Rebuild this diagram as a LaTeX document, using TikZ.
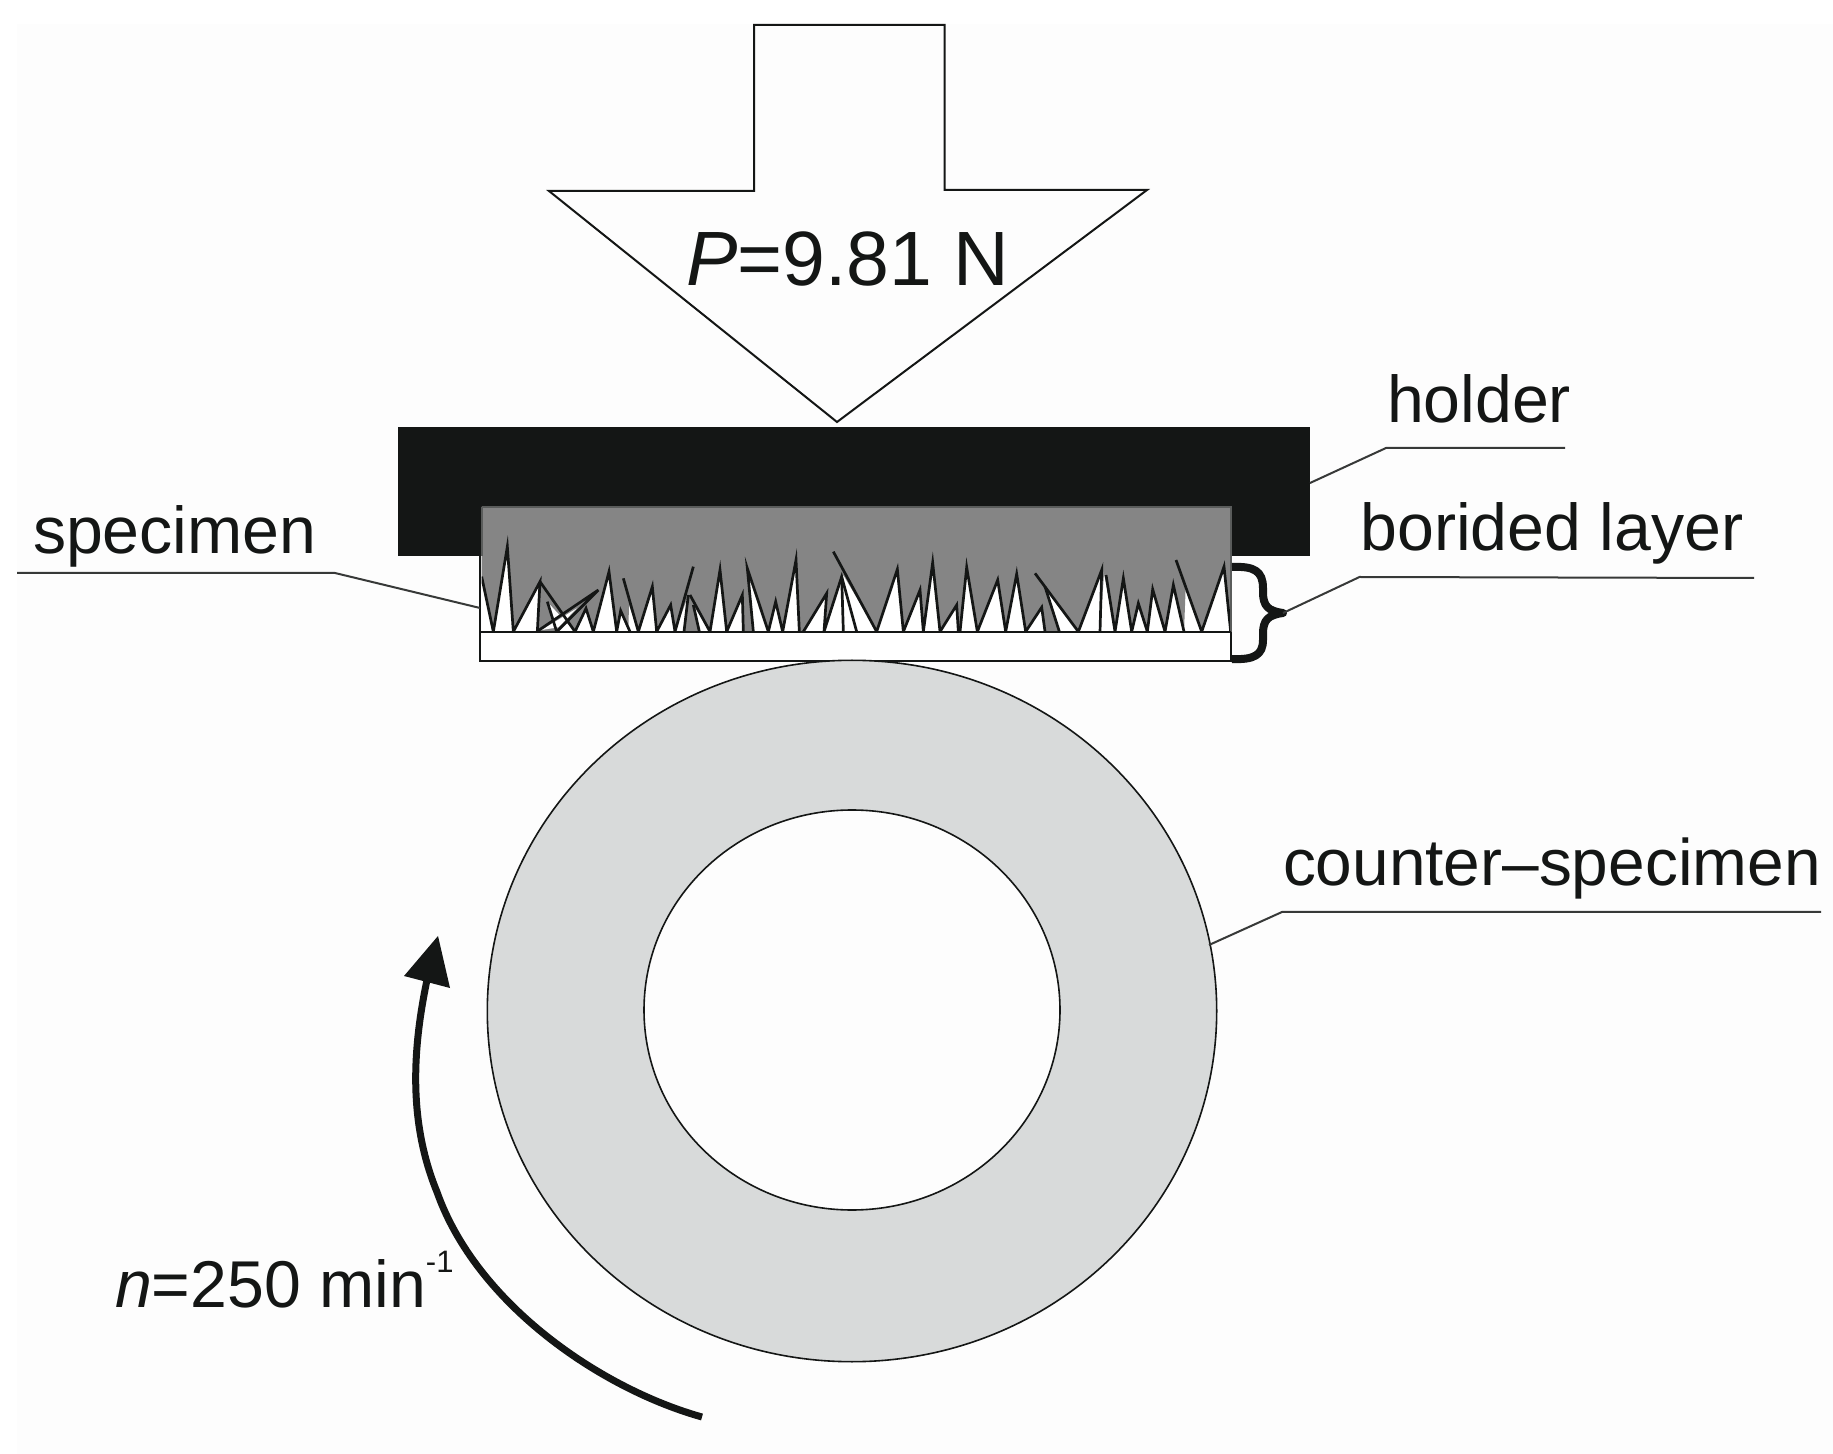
\documentclass[tikz,border=0pt]{standalone}
\usepackage{fontspec}
\setmainfont{Liberation Sans}
\definecolor{ink}{HTML}{141615}
\definecolor{paper}{HTML}{FDFDFD}
\definecolor{layergray}{HTML}{858585}
\definecolor{ringgray}{HTML}{D8DADA}
\tikzset{
  lab/.style={anchor=base west,inner sep=0pt,outer sep=0pt,text=ink,font=\fontsize{33.1pt}{36pt}\selectfont},
  biglab/.style={lab,font=\fontsize{38.5pt}{44pt}\selectfont},
  outline/.style={draw=ink,line width=1pt,line join=miter},
  thinline/.style={draw=ink,line width=.8pt},
  leader/.style={draw=ink!85,line width=1pt},
  spike/.style={draw=ink,line width=1.35pt,line join=miter}
}
\begin{document}
\begin{tikzpicture}[x=.5pt,y=-.5pt]
\useasboundingbox (0,0) rectangle (1833,1454);
\fill[white] (0,0) rectangle (1833,1454);
\fill[paper] (17,24) rectangle (1833,1454);

% load arrow
\draw[outline,fill=paper] (754,25) -- (944.5,25) -- (944.5,190) -- (1147,190) -- (837,422) -- (549,191) -- (754,191) -- cycle;
\node[biglab] (load) at (686,286) {\textit{P}=9.81 N};

% holder
\fill[ink] (398,427) rectangle (1310,556);

% specimen base
\draw[outline,fill=white] (480,556) -- (480,661) -- (1231,661) -- (1231,556);
\fill[white] (480,556) rectangle (1231,632);
\draw[outline] (480,556) -- (480,661);
\draw[outline] (1231,556) -- (1231,661);

% boride layer, drawn in the units of a 3x crop
\begin{scope}[shift={(460,490)},x=.16667pt,y=-.16667pt]
\clip (65,50) rectangle (2312,425);
\fill[layergray] (65,50) -- (65,260) -- (100,425) -- (142,170) -- (160,425) -- (240,275) -- (232,425)
  -- (290,425) -- (262,335) -- (345,425) -- (378,355) -- (400,425) -- (447,245) -- (470,425) -- (482,362) -- (505,420) -- (507,345)
  -- (535,425) -- (577,290) -- (590,425) -- (632,345) -- (645,425) -- (685,315) -- (672,425) -- (715,425) -- (700,345)
  -- (750,425) -- (780,240) -- (800,425) -- (847,315) -- (850,425) -- (880,425) -- (862,235) -- (925,425) -- (947,335)
  -- (968,425) -- (1008,210) -- (1018,425) -- (1030,425) -- (1100,310) -- (1092,425) -- (1150,255) -- (1250,425)
  -- (1312,238) -- (1330,425) -- (1380,300) -- (1390,425) -- (1418,218) -- (1440,425) -- (1490,345) -- (1495,425)
  -- (1500,425) -- (1520,232) -- (1552,425) -- (1613,270) -- (1637,425) -- (1670,252) -- (1697,425) -- (1745,352)
  -- (1755,425) -- (1798,425) -- (1755,290) -- (1855,425) -- (1925,240) -- (1920,425) -- (1932,250) -- (1965,425)
  -- (1990,265) -- (2015,425) -- (2035,340) -- (2062,425) -- (2078,298) -- (2115,425) -- (2140,285) -- (2172,425)
  -- (2177,290) -- (2225,425) -- (2292,230) -- (2312,425) -- (2312,50) -- cycle;
% the stray shard
\fill[layergray] (230,425) -- (415,300) -- (290,425) -- cycle;
\fill[white] (245,420) -- (350,355) -- (295,412) -- cycle;
\draw[spike] (65,260) -- (100,425) -- (142,170) -- (160,425) -- (240,275) -- (232,425);
\draw[spike] (240,275) -- (345,425) -- (378,355) -- (400,425) -- (447,245) -- (470,425) -- (482,362) -- (510,425);
\draw[spike] (262,335) -- (290,425);
\draw[spike] (230,425) -- (415,300) -- (290,425);
\draw[spike] (490,265) -- (535,425) -- (577,290) -- (590,425) -- (632,345) -- (645,425) -- (700,230);
\draw[spike] (685,315) -- (672,425);
\draw[spike] (690,315) -- (750,425) -- (780,240) -- (800,425) -- (847,315) -- (850,425);
\draw[spike] (700,345) -- (718,425);
\draw[spike] (880,425) -- (862,235) -- (925,425) -- (947,335) -- (968,425) -- (1008,210) -- (1018,425);
\draw[spike] (1030,425) -- (1100,310) -- (1092,425) -- (1145,260) -- (1190,425);
\draw[spike] (1145,260) -- (1150,425);
\draw[spike] (1120,185) -- (1250,425) -- (1312,238) -- (1330,425) -- (1380,300) -- (1390,425) -- (1418,218) -- (1440,425) -- (1490,345) -- (1495,425);
\draw[spike] (1500,425) -- (1520,232) -- (1552,425) -- (1613,270) -- (1637,425) -- (1670,252) -- (1697,425) -- (1745,352) -- (1755,425);
\draw[spike] (1725,250) -- (1855,425) -- (1925,240) -- (1920,425);
\draw[spike] (1755,290) -- (1798,425);
\draw[spike] (1938,255) -- (1965,425) -- (1990,265) -- (2015,425) -- (2035,340) -- (2062,425) -- (2078,298) -- (2115,425) -- (2140,285) -- (2172,425);
\draw[spike] (2148,210) -- (2225,425) -- (2292,230) -- (2312,425);
\end{scope}
\draw[draw=ink!70,line width=.8pt] (482,507) -- (1231,507) -- (1231,632);
\draw[draw=ink!70,line width=.8pt] (482,507) -- (482,556);
\draw[outline] (480,632) -- (1231,632);

% brace
\coordinate (bracetip) at (1283,613);
\draw[draw=ink,line width=4pt,line join=round] (1232,567) .. controls (1254,566) and (1263,571) .. (1263,588)
  -- (1263,592) .. controls (1263,606) and (1268,611) .. (bracetip)
  .. controls (1268,615) and (1263,620) .. (1263,634)
  -- (1263,640) .. controls (1263,655) and (1254,660) .. (1232,659);

% wheel
\draw[thinline,fill=ringgray] (852,1011) ellipse [x radius=182.35pt,y radius=175.35pt];
\draw[thinline,fill=paper] (852,1010) ellipse [x radius=104pt,y radius=100pt];

% rotation arrow
\draw[draw=ink,line width=3.5pt] (702,1417) .. controls (602,1389) and (477,1305) .. (437,1192)
  .. controls (410,1126) and (411,1056) .. (427,980);
\fill[ink] (438,936) -- (450,988) -- (404,976) -- cycle;

% labels
\node[lab] (holderlab) at (1387,423) {holder};
\node[lab] (boridedlab) at (1360.5,551) {borided layer};
\node[lab] (specimenlab) at (33,554) {specimen};
\node[lab,font=\fontsize{32.9pt}{36pt}\selectfont] (counterlab) at (1283,885) {counter–specimen};
\node[lab] (speedlab) at (115,1307) {\textit{n}=250 min\raisebox{17.5pt}{\fontsize{15.5pt}{17pt}\selectfont -1}};

% leaders
\coordinate (h0) at (1310,483); \coordinate (h1) at (1386,448); \coordinate (h2) at (1565,448);
\coordinate (b1) at (1359.5,577); \coordinate (b2) at (1754,578);
\coordinate (s0) at (17,573); \coordinate (s1) at (335,573); \coordinate (s2) at (480,608);
\coordinate (c0) at (1209,945); \coordinate (c1) at (1282,912); \coordinate (c2) at (1821,912);
\draw[leader] (h0) -- (h1) -- (h2);
\draw[leader] (bracetip) -- (b1) -- (b2);
\draw[leader] (s0) -- (s1) -- (s2);
\draw[leader] (c0) -- (c1) -- (c2);
\end{tikzpicture}
\end{document}
